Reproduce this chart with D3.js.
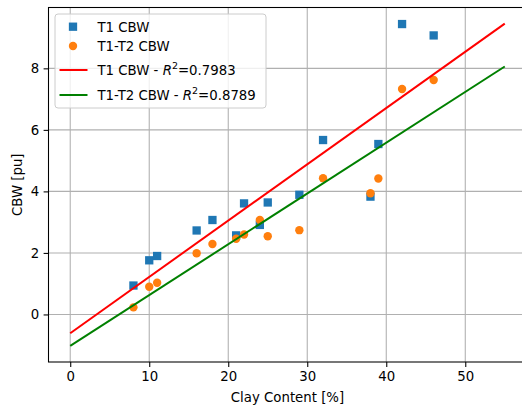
<!DOCTYPE html>
<html>
<head>
<meta charset="utf-8">
<script src="https://cdn.jsdelivr.net/npm/d3@7"></script>
<style>
  html, body { margin: 0; padding: 0; background: #fff; }
  svg { display: block; font-family: "DejaVu Sans", sans-serif; }
</style>
</head>
<body>
<svg id="chart" width="522" height="405"></svg>
<script>
// Clay content of the samples [%]
const clay = [8, 10, 11, 16, 18, 21, 22, 24, 25, 29, 32, 38, 39, 42, 46];
// Clay-bound water from T1 relaxation [pu]
const t1CBW = [0.94, 1.76, 1.90, 2.73, 3.07, 2.57, 3.61, 2.91, 3.64, 3.89, 5.67, 3.83, 5.54, 9.44, 9.07];
// Clay-bound water from T1-T2 maps [pu]
const t1t2CBW = [0.23, 0.90, 1.03, 1.99, 2.29, 2.46, 2.60, 3.07, 2.54, 2.74, 4.43, 3.94, 4.42, 7.33, 7.62];
// Range over which the fitted lines are drawn
const fitRange = [0, 55];
const xTicks = [0, 10, 20, 30, 40, 50];
const yTicks = [0, 2, 4, 6, 8];
const legendLabels = ["T1 CBW", "T1-T2 CBW"];
const r2Labels = ["0.7983", "0.8789"];

// Least-squares straight line through a series
function linFit(xs, ys) {
  const mx = d3.mean(xs), my = d3.mean(ys);
  let sxy = 0, sxx = 0;
  xs.forEach((x, i) => { sxy += (x - mx) * (ys[i] - my); sxx += (x - mx) * (x - mx); });
  const slope = sxy / sxx;
  return { slope, intercept: my - slope * mx };
}
const fitA = linFit(clay, t1CBW);
const fitB = linFit(clay, t1t2CBW);
const lineA = fitRange.map(x => [x, fitA.intercept + fitA.slope * x]);
const lineB = fitRange.map(x => [x, fitB.intercept + fitB.slope * x]);

const svg = d3.select("#chart");
const m = { left: 48.5, top: 7.5 };
const W = 478, H = 354.5;

// Data limits padded by 5% on each side
function padded(vals) {
  const [a, b] = d3.extent(vals);
  const p = (b - a) * 0.05;
  return [a - p, b + p];
}
const x = d3.scaleLinear()
  .domain(padded(clay.concat(fitRange)))
  .range([m.left, m.left + W]);
const y = d3.scaleLinear()
  .domain(padded(t1CBW.concat(t1t2CBW, lineA.map(d => d[1]), lineB.map(d => d[1]))))
  .range([m.top + H, m.top]);

svg.append("defs").append("clipPath").attr("id", "plotClip")
  .append("rect").attr("x", m.left).attr("y", m.top).attr("width", W).attr("height", H);

// Grid
const grid = svg.append("g").attr("stroke", "#b0b0b0").attr("stroke-width", 1.07);
grid.selectAll(".gx").data(xTicks).join("line")
  .attr("x1", d => x(d)).attr("x2", d => x(d))
  .attr("y1", m.top).attr("y2", m.top + H);
grid.selectAll(".gy").data(yTicks).join("line")
  .attr("x1", m.left).attr("x2", m.left + W)
  .attr("y1", d => y(d)).attr("y2", d => y(d));

// Axes
const xAxis = svg.append("g")
  .attr("transform", `translate(0,${m.top + H})`)
  .call(d3.axisBottom(x).tickValues(xTicks).tickSize(4.9).tickPadding(4.5).tickFormat(d3.format("d")));
const yAxis = svg.append("g")
  .attr("transform", `translate(${m.left},0)`)
  .call(d3.axisLeft(y).tickValues(yTicks).tickSize(4.9).tickPadding(4.5).tickFormat(d3.format("d")));
[xAxis, yAxis].forEach(g => {
  g.select(".domain").remove();
  g.selectAll("line").attr("stroke", "#000").attr("stroke-width", 1.07);
  g.selectAll("text").attr("fill", "#000").style("font-size", "13.3px").style("font-family", "DejaVu Sans");
});

// Points
const plot = svg.append("g").attr("clip-path", "url(#plotClip)");
const sq = 8.3;
plot.append("g").selectAll("rect").data(clay).join("rect")
  .attr("x", (d, i) => x(d) - sq / 2).attr("y", (d, i) => y(t1CBW[i]) - sq / 2)
  .attr("width", sq).attr("height", sq).attr("fill", "#1f77b4");
plot.append("g").selectAll("circle").data(clay).join("circle")
  .attr("cx", d => x(d)).attr("cy", (d, i) => y(t1t2CBW[i]))
  .attr("r", 4.2).attr("fill", "#ff7f0e");

// Fitted lines
const line = d3.line().x(d => x(d[0])).y(d => y(d[1]));
plot.append("path").datum(lineA).attr("d", line)
  .attr("fill", "none").attr("stroke", "#ff0000").attr("stroke-width", 2);
plot.append("path").datum(lineB).attr("d", line)
  .attr("fill", "none").attr("stroke", "#008000").attr("stroke-width", 2);

// Frame
const frame = svg.append("g").attr("stroke", "#000").attr("stroke-width", 1.07).attr("fill", "none");
frame.append("rect").attr("x", m.left).attr("y", m.top).attr("width", W).attr("height", H);

// Axis titles
svg.append("text").attr("x", m.left + W / 2).attr("y", 401.5)
  .attr("text-anchor", "middle").style("font-size", "13.3px").text("Clay Content [%]");
svg.append("text").attr("transform", `translate(21.5,${m.top + H / 2}) rotate(-90)`)
  .attr("text-anchor", "middle").style("font-size", "13.3px").text("CBW [pu]");

// Legend
const lg = svg.append("g");
lg.append("rect").attr("x", 55).attr("y", 14).attr("width", 211).attr("height", 94)
  .attr("rx", 3).attr("fill", "#fff").attr("fill-opacity", 0.8)
  .attr("stroke", "#cccccc").attr("stroke-width", 1);
const rows = [26.7, 46, 70, 95];
lg.append("rect").attr("x", 73 - sq / 2).attr("y", rows[0] - sq / 2)
  .attr("width", sq).attr("height", sq).attr("fill", "#1f77b4");
lg.append("circle").attr("cx", 73).attr("cy", rows[1]).attr("r", 4.2).attr("fill", "#ff7f0e");
lg.append("line").attr("x1", 59.5).attr("x2", 87.5).attr("y1", rows[2]).attr("y2", rows[2])
  .attr("stroke", "#ff0000").attr("stroke-width", 2);
lg.append("line").attr("x1", 59.5).attr("x2", 87.5).attr("y1", rows[3]).attr("y2", rows[3])
  .attr("stroke", "#008000").attr("stroke-width", 2);
legendLabels.forEach((lab, i) => {
  lg.append("text").attr("x", 97.5).attr("y", rows[i] + 4.8)
    .style("font-size", "13.3px").text(lab);
  const t = lg.append("text").attr("x", 97.5).attr("y", rows[i + 2] + 4.8).style("font-size", "13.3px");
  t.append("tspan").text(lab + " - ");
  t.append("tspan").style("font-style", "italic").text("R");
  t.append("tspan").attr("dy", -5.5).style("font-size", "9.5px").text("2");
  t.append("tspan").attr("dy", 5.5).text("=" + r2Labels[i]);
});
</script>
</body>
</html>
